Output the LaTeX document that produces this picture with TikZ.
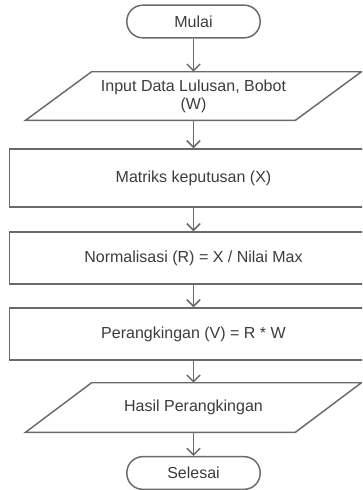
\documentclass[tikz,border=0pt]{standalone}
\usepackage{fontspec}
\setmainfont{Liberation Sans}
\usepackage{tikz}
\usetikzlibrary{calc}
\usetikzlibrary{arrows.meta}
\usepackage{xcolor}

\definecolor{garis}{HTML}{6A6A6A}
\definecolor{teks}{HTML}{3C3C3C}

\tikzset{
  terminal/.style={draw=garis, line width=1.1pt, rounded corners=12pt, minimum width=100pt, minimum height=24.5pt, text=teks, inner sep=0pt},
  proses/.style={draw=garis, line width=1.1pt, minimum width=276pt, text=teks, inner sep=0pt},
  io/.style={minimum width=202pt, minimum height=36pt, text=teks, align=center, inner sep=0pt},
  jajar/.style={draw=garis, line width=1.1pt},
  alur/.style={draw=garis, line width=1.1pt, -{Straight Barb[length=5pt,width=10pt]}},
}

\begin{document}
\begin{tikzpicture}[x=0.75pt,y=-0.75pt,font=\fontsize{12}{13.5}\selectfont]
% \draw[lightgray] (0,0) grid[step=10] (362,490);
\clip (0,0) rectangle (362,490);

\node[terminal] (mulai) at (193.5,21.5) {Mulai};
\node[io] (input) at (193.5,96) {Input Data Lulusan, Bobot\\(W)};
\node[proses, minimum height=43.5pt] (matriks) at (193.5,178) {Matriks keputusan (X)};
\node[proses, minimum height=39pt] (norm) at (193.5,258) {Normalisasi (R) = X / Nilai Max};
\node[proses, minimum height=39pt] (rank) at (193.5,334) {Perangkingan (V) = R * W};
\node[io, minimum height=36.75pt] (hasil) at (193.5,407.5) {Hasil Perangkingan};
\node[terminal] (selesai) at (193.5,473) {Selesai};

% jajaran genjang input / output
\draw[jajar] ([xshift=24.75pt]input.north west) -- ([xshift=24.75pt]input.north east)
  -- ([xshift=-24.75pt]input.south east) -- ([xshift=-24.75pt]input.south west) -- cycle;
\draw[jajar] ([xshift=24.75pt]hasil.north west) -- ([xshift=24.75pt]hasil.north east)
  -- ([xshift=-24.75pt]hasil.south east) -- ([xshift=-24.75pt]hasil.south west) -- cycle;

\draw[alur] (mulai.south) -- (input.north);
\draw[alur] (input.south) -- (matriks.north);
\draw[alur] (matriks.south) -- (norm.north);
\draw[alur] (norm.south) -- (rank.north);
\draw[alur] (rank.south) -- (hasil.north);
\draw[alur] (hasil.south) -- (selesai.north);

\end{tikzpicture}
\end{document}
